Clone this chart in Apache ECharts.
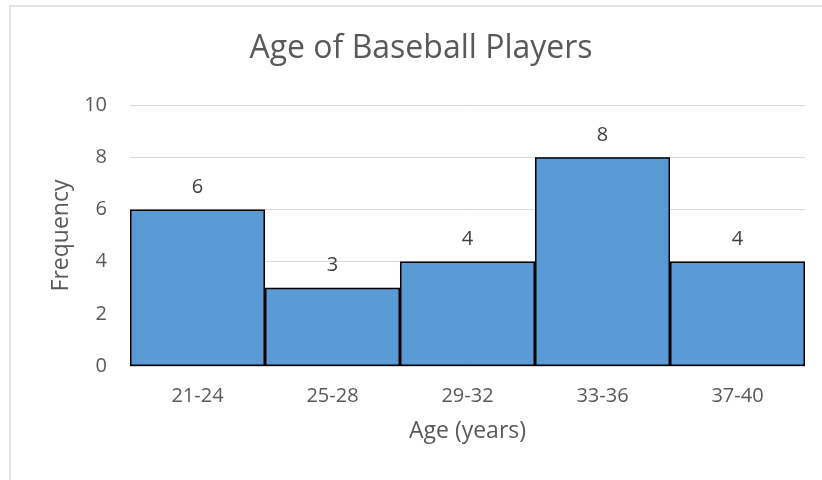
<!DOCTYPE html>
<html><head><meta charset="utf-8">
<script src="https://cdn.jsdelivr.net/npm/echarts@6/dist/echarts.min.js"></script>
<style>html,body{margin:0;padding:0;background:#fff;}#c{width:822px;height:480px;}</style>
</head><body><div id="c"></div>
<script>
const categories = ['21-24', '25-28', '29-32', '33-36', '37-40'];
const frequencies = [6, 3, 4, 8, 4];
const yTicks = { min: 0, max: 10, interval: 2 };
const FONT = '"Open Sans", sans-serif';
const chart = echarts.init(document.getElementById('c'));
chart.setOption({
  animation: false,
  backgroundColor: '#fff',
  graphic: [{ type: 'rect', shape: { x: 10, y: 6, width: 840, height: 500 }, style: { fill: 'none', stroke: '#d9d9d9', lineWidth: 1.5 }, silent: true }],
  title: { text: 'Age of Baseball Players', left: 421, textAlign: 'center', top: 33, padding: 0, textStyle: { fontFamily: FONT, fontSize: 32, fontWeight: 'normal', color: '#595959' } },
  grid: { left: 130, right: 17, top: 105, bottom: 114 },
  xAxis: {
    type: 'category', data: categories,
    name: 'Age (years)', nameLocation: 'middle', nameGap: 54,
    nameTextStyle: { fontFamily: FONT, fontSize: 23, color: '#595959' },
    axisLine: { lineStyle: { color: '#d0d0d0', width: 1 } },
    axisTick: { show: false },
    axisLabel: { fontFamily: FONT, fontSize: 20, color: '#595959', margin: 20 }
  },
  yAxis: {
    type: 'value', min: yTicks.min, max: yTicks.max, interval: yTicks.interval,
    name: 'Frequency', nameLocation: 'middle', nameGap: 56,
    nameTextStyle: { fontFamily: FONT, fontSize: 23, color: '#595959' },
    axisLine: { show: false }, axisTick: { show: false },
    axisLabel: { fontFamily: FONT, fontSize: 20, color: '#595959', margin: 23 },
    splitLine: { lineStyle: { color: '#d9d9d9', width: 1 } }
  },
  series: [{
    type: 'bar', data: frequencies, barCategoryGap: '0%',
    itemStyle: { color: '#5b9bd5', borderColor: '#000', borderWidth: 1.5 },
    label: { show: true, position: 'top', distance: 12, fontFamily: FONT, fontSize: 20, color: '#404040' }
  }]
});
</script></body></html>
